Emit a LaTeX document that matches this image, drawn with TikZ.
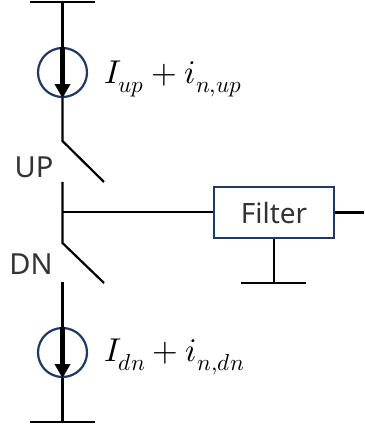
\documentclass[tikz,border=0pt]{standalone}
\usepackage{fontspec}
\setmainfont{Noto Sans}
\usepackage{unicode-math}
\setmathfont{Latin Modern Math}
\usetikzlibrary{positioning,calc,arrows.meta}
\tikzset{>=stealth}
\definecolor{navy}{RGB}{31,56,100}
\tikzset{
  wire/.style={line width=2.2pt},
  source/.style={draw=navy,circle,line width=2.2pt,minimum size=49pt,inner sep=0pt},
  filterbox/.style={draw=navy,line width=2.2pt,minimum width=120pt,minimum height=51pt,font=\fontsize{28}{28}\selectfont,text=black!80},
  lab/.style={font=\fontsize{29}{29}\selectfont,inner sep=0pt,text=black!80},
  formula/.style={font=\fontsize{33}{33}\selectfont,inner sep=0pt,anchor=west},
  current/.style={-{Stealth[length=14pt,width=15pt,inset=0pt]},line width=4.5pt},
}
\begin{document}
\begin{tikzpicture}[x=1pt,y=-1pt]
\useasboundingbox (0,0) rectangle (364,430);
\coordinate (VL) at (30,2);
\coordinate (VR) at (95,2);
\coordinate (V) at (62.5,2);
\coordinate (GL) at (30,422);
\coordinate (GR) at (95,422);
\coordinate (G) at (62.5,422);
\node[source] (Iup) at (62.5,72.5) {};
\node[source] (Idn) at (62.5,352.5) {};
\coordinate (S1) at (62.5,141);
\coordinate (S1e) at (104,182);
\coordinate (M1) at (62.5,182);
\coordinate (M) at (62.5,212);
\coordinate (M2) at (62.5,243);
\coordinate (S2e) at (104,283);
\coordinate (S2) at (62.5,282);
\node[filterbox] (F) at (274,212.5) {Filter};
\coordinate (Out) at (364,212.5);
\coordinate (FG) at (274,283);
\coordinate (FGL) at (241,283);
\coordinate (FGR) at (306,283);
% rails
\draw[wire] (VL) -- (VR);
\draw[wire] (GL) -- (GR);
\draw[wire] (FGL) -- (FGR);
% branch with switches
\draw[wire] (V) -- (Iup.north);
\draw[wire] (Iup.south) -- (S1) -- (S1e);
\draw[wire] (M1) -- (M2) -- (S2e);
\draw[wire] (S2) -- (Idn.north);
\draw[wire] (Idn.south) -- (G);
\draw[wire] (M) -- (M -| F.west);
\draw[wire] (F.east) -- (Out);
\draw[wire] (F.south) -- (FG);
% current arrows
\draw[current] (Iup.north) -- (Iup.south);
\draw[current] (Idn.north) -- (Idn.south);
\node[formula] (Lup) at (104,79) {$I_{up}+i_{n,up}$};
\node[formula] (Ldn) at (104,357) {$I_{dn}+i_{n,dn}$};
\node[lab] (UP) at (34,167) {UP};
\node[lab] (DN) at (31,264) {DN};
\end{tikzpicture}
\end{document}
